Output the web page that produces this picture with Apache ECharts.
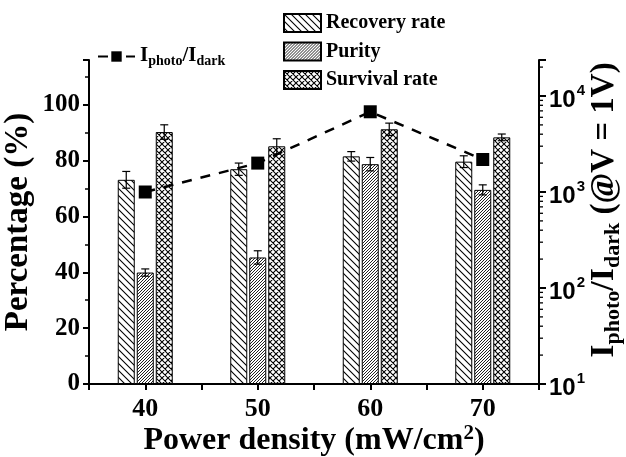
<!DOCTYPE html>
<html><head><meta charset="utf-8">
<script src="https://cdn.jsdelivr.net/npm/echarts@6/dist/echarts.min.js"></script>
<style>html,body{margin:0;padding:0;background:#fff}#c{width:626px;height:457px}</style>
</head><body><div id="c"></div>
<script>
// ---- data ----
const powerDensity = [40, 50, 60, 70];
const recoveryRate = [73.1, 76.9, 81.5, 79.6];
const recoveryErr  = [3.0, 2.2, 1.7, 2.1];
const purity       = [39.9, 45.3, 78.7, 69.5];
const purityErr    = [1.3, 2.4, 2.4, 1.8];
const survivalRate = [90.2, 85.1, 91.2, 88.3];
const survivalErr  = [2.6, 2.7, 2.2, 1.2];
const photoDarkRatio = [1000, 2000, 6850, 2180];
const leftTicks = [0, 20, 40, 60, 80, 100];
const xTickLabels = [40, 50, 60, 70];
const rightDecades = [10, 100, 1000, 10000];
const rightMinorMultipliers = [2, 3, 4, 5, 6, 7, 8, 9];

// ---- patterns ----
function makePattern(kind, size, lw, color) {
  const c = document.createElement('canvas');
  c.width = size; c.height = size;
  const g = c.getContext('2d');
  g.fillStyle = '#fff'; g.fillRect(0, 0, size, size);
  g.strokeStyle = color; g.lineWidth = lw;
  g.beginPath();
  for (let k = -1; k <= 1; k++) {
    if (kind === 'back' || kind === 'cross') {
      g.moveTo(k * size - 1, -1); g.lineTo(k * size + size + 1, size + 1);
    }
    if (kind === 'fwd' || kind === 'cross') {
      g.moveTo(k * size - 1, size + 1); g.lineTo(k * size + size + 1, -1);
    }
  }
  g.stroke();
  return { image: c, repeat: 'repeat' };
}

const SERIF = '"Liberation Serif", "Times New Roman", serif';
const SANS = '"Liberation Sans", Arial, sans-serif';
const barW = 17, barGapPx = 2;
const bars = [
  { name: 'Recovery rate', vals: recoveryRate, err: recoveryErr, color: makePattern('back', 7, 1.1, '#000') },
  { name: 'Purity',        vals: purity,       err: purityErr,   color: makePattern('fwd', 3, 1.0, '#222') },
  { name: 'Survival rate', vals: survivalRate, err: survivalErr, color: makePattern('cross', 6, 1.1, '#000') }
];
const ratioName = 'Iphoto/Idark';

const series = [];
bars.forEach(b => {
  series.push({
    type: 'bar', name: b.name, xAxisIndex: 0, yAxisIndex: 0,
    data: powerDensity.map((x, i) => [x, b.vals[i]]),
    barWidth: barW, barGap: (barGapPx / barW * 100) + '%',
    itemStyle: { color: b.color, borderColor: '#000', borderWidth: 1 },
    emphasis: { disabled: true }
  });
});
bars.forEach((b, si) => {
  const off = (si - 1) * (barW + barGapPx);
  series.push({
    type: 'custom', name: b.name + ' err', xAxisIndex: 0, yAxisIndex: 0, z: 5,
    data: powerDensity.map((x, i) => [x, b.vals[i] - b.err[i], b.vals[i] + b.err[i]]),
    renderItem: (params, api) => {
      const x = api.value(0);
      const lo = api.coord([x, api.value(1)]);
      const hi = api.coord([x, api.value(2)]);
      const cx = lo[0] + off, cap = 4;
      const st = { stroke: '#000', lineWidth: 1.2 };
      return { type: 'group', children: [
        { type: 'line', shape: { x1: cx, y1: lo[1], x2: cx, y2: hi[1] }, style: st },
        { type: 'line', shape: { x1: cx - cap, y1: hi[1], x2: cx + cap, y2: hi[1] }, style: st },
        { type: 'line', shape: { x1: cx - cap, y1: lo[1], x2: cx + cap, y2: lo[1] }, style: st }
      ]};
    }
  });
});
// log-spaced minor ticks of the right axis (axis decoration, placed by the axis scale)
const minorTickVals = [];
rightDecades.forEach(d => rightMinorMultipliers.forEach(m => { if (d * m <= 23714) minorTickVals.push(d * m); }));
series.push({
  type: 'custom', name: 'minor ticks', xAxisIndex: 0, yAxisIndex: 1, clip: false, silent: true,
  data: minorTickVals.map(v => [75, v]),
  renderItem: (params, api) => {
    const p = api.coord([api.value(0), api.value(1)]);
    return { type: 'line', shape: { x1: p[0], y1: p[1], x2: p[0] + 4, y2: p[1] }, style: { stroke: '#000', lineWidth: 1.3 } };
  }
});
series.push({
  type: 'line', name: ratioName, xAxisIndex: 0, yAxisIndex: 1, z: 10,
  data: powerDensity.map((x, i) => [x, photoDarkRatio[i]]),
  symbol: 'rect', symbolSize: 13,
  itemStyle: { color: '#000' },
  lineStyle: { color: '#000', width: 2.5, type: [10, 9] },
  emphasis: { disabled: true }
});

const subRich = {
  a: { fontFamily: SERIF, fontWeight: 'bold', fontSize: 21, color: '#000', verticalAlign: 'top', lineHeight: 23 },
  s: { fontFamily: SERIF, fontWeight: 'bold', fontSize: 14, color: '#000', verticalAlign: 'top', lineHeight: 15, padding: [9, 0, 0, 0] }
};
const nameRich = {
  f: { fontFamily: SERIF, fontWeight: 'bold', fontSize: 34, color: '#000', verticalAlign: 'top', lineHeight: 36, padding: [0, 0, 0, 24] },
  a: { fontFamily: SERIF, fontWeight: 'bold', fontSize: 34, color: '#000', verticalAlign: 'top', lineHeight: 36 },
  s: { fontFamily: SERIF, fontWeight: 'bold', fontSize: 22, color: '#000', verticalAlign: 'top', lineHeight: 23, padding: [15, 0, 0, 0] },
  u: { fontFamily: SERIF, fontWeight: 'bold', fontSize: 21, color: '#000', verticalAlign: 'top', lineHeight: 22, padding: [0, 0, 0, 0] },
  m: { fontFamily: SERIF, fontWeight: 'bold', fontSize: 32, color: '#000', verticalAlign: 'top', lineHeight: 34, padding: [2, 0, 0, 0] },
  n: { fontFamily: SERIF, fontWeight: 'bold', fontSize: 33, color: '#000', verticalAlign: 'top', lineHeight: 36, padding: [1, 0, 0, 0] }
};
const tickRich = {
  a: { fontFamily: SANS, fontWeight: 'bold', fontSize: 24, color: '#000', verticalAlign: 'top', lineHeight: 26, padding: [5, 0, 0, 0] },
  e: { fontFamily: SANS, fontWeight: 'bold', fontSize: 15, color: '#000', verticalAlign: 'top', lineHeight: 17, padding: [0, 0, 0, 1] }
};

const option = {
  animation: false,
  backgroundColor: '#fff',
  grid: { left: 89, right: 87, top: 60, bottom: 73, outerBoundsMode: 'none' },
  legend: [
    {
      data: bars.map(b => ({ name: b.name, icon: 'rect' })), orient: 'vertical', left: 278, top: 8,
      itemWidth: 37, itemHeight: 18, itemGap: 8.5, selectedMode: false,
      textStyle: { fontFamily: SERIF, fontWeight: 'bold', fontSize: 20, color: '#000' }
    },
    {
      data: [ratioName], left: 92, top: 40, itemWidth: 37, itemHeight: 13, selectedMode: false,
      lineStyle: { type: [10, 18] },
      formatter: () => '{a|I}{s|photo}{a|/I}{s|dark}',
      textStyle: { rich: subRich }
    }
  ],
  xAxis: {
    type: 'value', min: 35, max: 75, interval: 5,
    name: '{m|Power density (mW/cm}{u|2}{m|)}', nameLocation: 'middle', nameGap: 39, nameMoveOverlap: false,
    nameTextStyle: { rich: nameRich },
    axisLine: { lineStyle: { color: '#000', width: 2 } },
    axisTick: { length: 6, lineStyle: { color: '#000', width: 2 } },
    axisLabel: {
      margin: 12, fontFamily: SERIF, fontWeight: 'bold', fontSize: 26, color: '#000',
      formatter: v => xTickLabels.includes(v) ? String(v) : ''
    },
    splitLine: { show: false }
  },
  yAxis: [
    {
      type: 'value', min: 0, max: 116, interval: 20, position: 'left',
      name: 'Percentage (%)', nameLocation: 'middle', nameRotate: 90, nameGap: 54, nameMoveOverlap: false,
      nameTextStyle: { fontFamily: SERIF, fontWeight: 'bold', fontSize: 33, color: '#000' },
      axisLine: { show: true, lineStyle: { color: '#000', width: 2 } },
      axisTick: { length: 6, lineStyle: { color: '#000', width: 2 } },
      minorTick: { show: true, splitNumber: 2, length: 4, lineStyle: { color: '#000', width: 1.5 } },
      axisLabel: {
        margin: 9, fontFamily: SERIF, fontWeight: 'bold', fontSize: 25, color: '#000',
        formatter: v => leftTicks.includes(v) ? String(v) : ''
      },
      splitLine: { show: false }
    },
    {
      type: 'log', logBase: 10, min: 10, max: 23714, position: 'right',
      name: '{f|I}{s|photo}{a|/I}{s|dark}{n| (@V = 1V)}', nameLocation: 'middle', nameRotate: 90, nameGap: 48, nameMoveOverlap: false,
      nameTextStyle: { rich: nameRich },
      axisLine: { show: true, lineStyle: { color: '#000', width: 2 } },
      axisTick: { length: 7, lineStyle: { color: '#000', width: 2 } },
      minorTick: { show: false },
      axisLabel: {
        margin: 10,
        formatter: v => {
          const e = Math.log10(v);
          if (Math.abs(e - Math.round(e)) > 1e-6) return '';
          return '{a|10}{e|' + Math.round(e) + '}';
        },
        rich: tickRich
      },
      splitLine: { show: false }
    }
  ],
  series: series
};
const chart = echarts.init(document.getElementById('c'));
chart.setOption(option);
</script>
</body></html>
